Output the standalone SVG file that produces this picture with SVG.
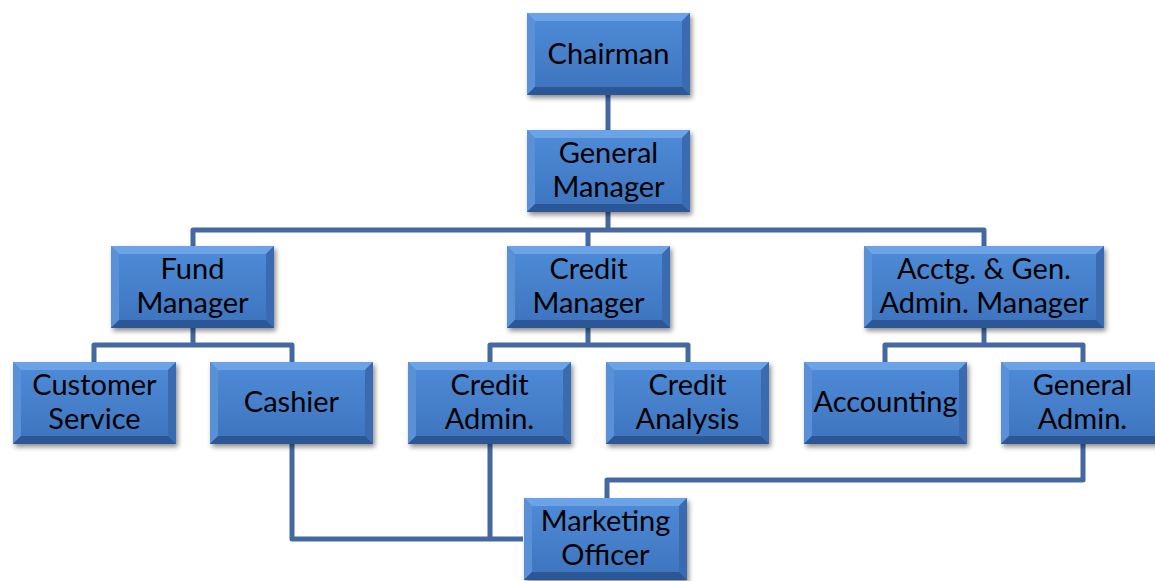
<svg xmlns="http://www.w3.org/2000/svg" xmlns:xlink="http://www.w3.org/1999/xlink" width="1155" height="581" viewBox="0 0 1155 581">
  <style>
    .link { fill: none; stroke: #4469a0; stroke-width: 5; stroke-linejoin: round; }
    .lbl { font-family: Lato, "Open Sans", "Liberation Sans", sans-serif; font-size: 29px; fill: #000; text-anchor: middle; }
    .bt { fill: #6ca2e6; }
    .bl { fill: #5a90d6; }
    .br { fill: #3a6ab0; }
    .bb { fill: #2c5796; }
  </style>
  <defs>
    <linearGradient id="face" x1="0" y1="0" x2="0" y2="1">
      <stop offset="0" stop-color="#4f8cd8"/>
      <stop offset="1" stop-color="#3d73bd"/>
    </linearGradient>
    <filter id="shadow" x="-10%" y="-10%" width="130%" height="140%">
      <feDropShadow dx="2" dy="3" stdDeviation="2.5" flood-color="#000" flood-opacity="0.45"/>
    </filter>
    <!-- standard beveled box 163 x 82 -->
    <g id="box">
      <rect x="0" y="0" width="163" height="82" fill="url(#face)" filter="url(#shadow)"/>
      <polygon class="bt" points="0,0 163,0 155,8 8,8"/>
      <polygon class="bl" points="0,0 8,8 8,74 0,82"/>
      <polygon class="br" points="163,0 163,82 155,74 155,8"/>
      <polygon class="bb" points="0,82 163,82 155,74 8,74"/>
    </g>
    <!-- wide beveled box 240 x 82 -->
    <g id="boxWide">
      <rect x="0" y="0" width="240" height="82" fill="url(#face)" filter="url(#shadow)"/>
      <polygon class="bt" points="0,0 240,0 232,8 8,8"/>
      <polygon class="bl" points="0,0 8,8 8,74 0,82"/>
      <polygon class="br" points="240,0 240,82 232,74 232,8"/>
      <polygon class="bb" points="0,82 240,82 232,74 8,74"/>
    </g>
  </defs>

  <g id="connectors">
    <path class="link" d="M608 95 V130"/>
    <path class="link" d="M608 212 V230 M193 246 V230 H984 V246 M588 230 V246"/>
    <path class="link" d="M193 327 V345 M94 362 V345 H292 V362"/>
    <path class="link" d="M588 327 V345 M490 362 V345 H688 V362"/>
    <path class="link" d="M984 327 V345 M885 362 V345 H1083 V362"/>
    <path class="link" d="M292 443 V539 H523 M490 443 V539"/>
    <path class="link" d="M1083 443 V480 H607 V498"/>
  </g>

  <g id="chairman" transform="translate(527,13)">
    <use href="#box"/>
    <text class="lbl" x="81.5" y="51">Chairman</text>
  </g>
  <g id="general-manager" transform="translate(527,130)">
    <use href="#box"/>
    <text class="lbl" x="81.5" y="33">General</text>
    <text class="lbl" x="81.5" y="67">Manager</text>
  </g>
  <g id="fund-manager" transform="translate(111,246)">
    <use href="#box"/>
    <text class="lbl" x="81.5" y="33">Fund</text>
    <text class="lbl" x="81.5" y="67">Manager</text>
  </g>
  <g id="credit-manager" transform="translate(507,246)">
    <use href="#box"/>
    <text class="lbl" x="81.5" y="33">Credit</text>
    <text class="lbl" x="81.5" y="67">Manager</text>
  </g>
  <g id="acctg-manager" transform="translate(864,246)">
    <use href="#boxWide"/>
    <text class="lbl" x="120" y="33">Acctg. &amp; Gen.</text>
    <text class="lbl" x="120" y="67">Admin. Manager</text>
  </g>
  <g id="customer-service" transform="translate(13,362)">
    <use href="#box"/>
    <text class="lbl" x="81.5" y="33">Customer</text>
    <text class="lbl" x="81.5" y="67">Service</text>
  </g>
  <g id="cashier" transform="translate(210,362)">
    <use href="#box"/>
    <text class="lbl" x="81.5" y="50">Cashier</text>
  </g>
  <g id="credit-admin" transform="translate(408,362)">
    <use href="#box"/>
    <text class="lbl" x="81.5" y="33">Credit</text>
    <text class="lbl" x="81.5" y="67">Admin.</text>
  </g>
  <g id="credit-analysis" transform="translate(606,362)">
    <use href="#box"/>
    <text class="lbl" x="81.5" y="33">Credit</text>
    <text class="lbl" x="81.5" y="67">Analysis</text>
  </g>
  <g id="accounting" transform="translate(804,362)">
    <use href="#box"/>
    <text class="lbl" x="81.5" y="50">Accounting</text>
  </g>
  <g id="general-admin" transform="translate(1001,362)">
    <use href="#box"/>
    <text class="lbl" x="81.5" y="33">General</text>
    <text class="lbl" x="81.5" y="67">Admin.</text>
  </g>
  <g id="marketing-officer" transform="translate(524,498)">
    <use href="#box"/>
    <text class="lbl" x="81.5" y="33">Marketing</text>
    <text class="lbl" x="81.5" y="67">Officer</text>
  </g>
</svg>
